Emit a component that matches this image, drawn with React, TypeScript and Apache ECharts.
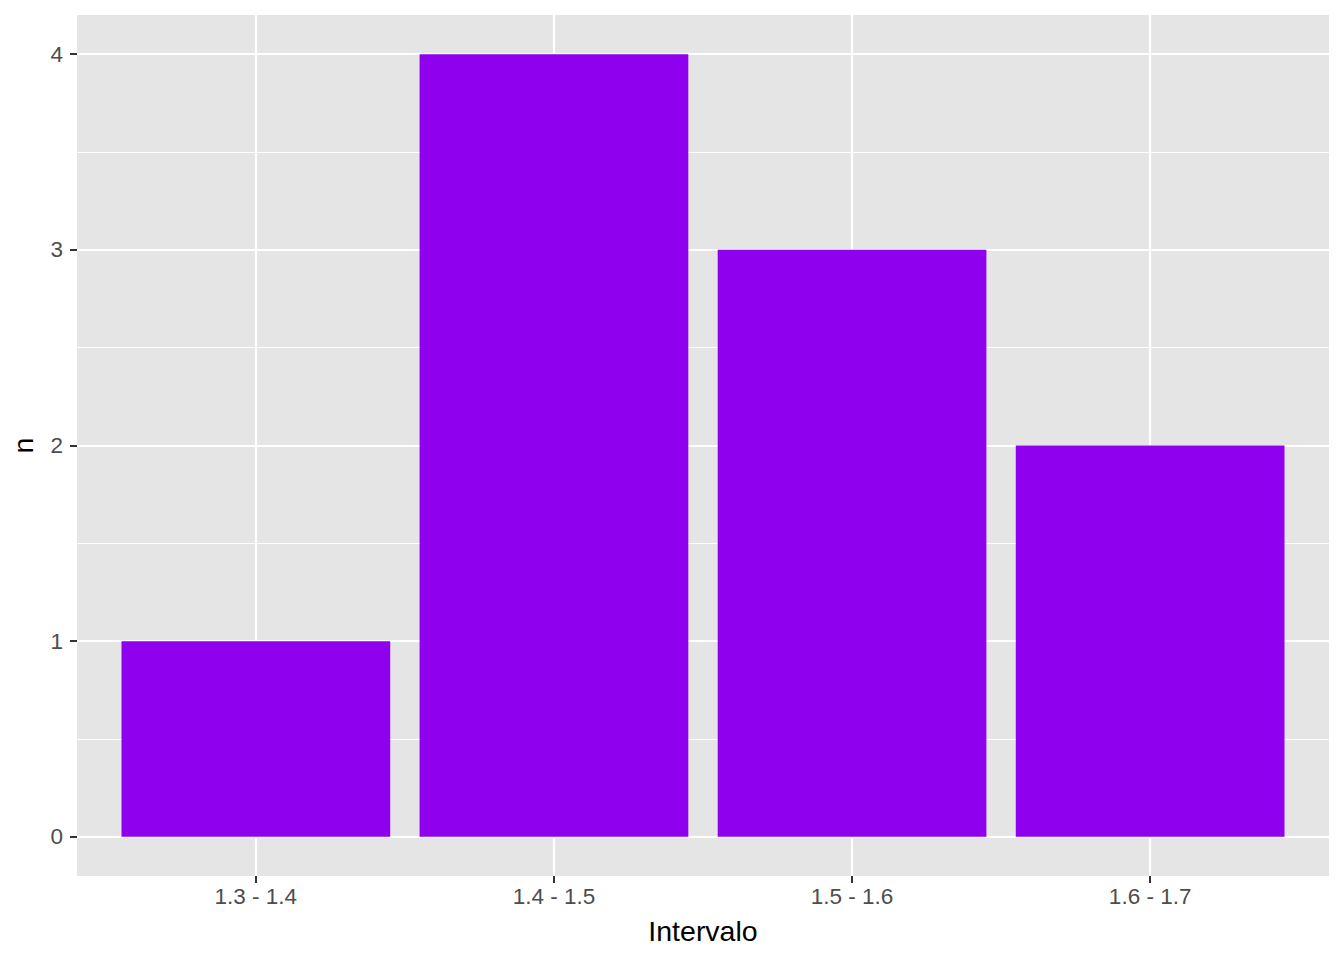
import React, { useEffect, useRef } from "react";
import * as echarts from "echarts";

const categories = ["1.3 - 1.4", "1.4 - 1.5", "1.5 - 1.6", "1.6 - 1.7"];
const counts = [1, 4, 3, 2];
const yTicks = [0, 1, 2, 3, 4];
const yMinor = [0.5, 1.5, 2.5, 3.5];
const xTitle = "Intervalo";
const yTitle = "n";

const W = 1344;
const H = 960;
const GRID = { left: 75, right: 15, top: 15, bottom: 84 };
const FONT = "'Liberation Sans', Arial, Helvetica, sans-serif";
const BAR_COLOR = "#8E00EE";
const PANEL_BG = "#E5E5E5";

export default function App() {
  const ref = useRef<HTMLDivElement>(null);

  useEffect(() => {
    if (!ref.current) return;
    const chart = echarts.init(ref.current, null, { renderer: "svg", width: W, height: H });

    const xMin = 0.4;
    const xMax = categories.length + 0.6;
    const yMin = -0.2;
    const yMax = 4.2;
    const plotW = W - GRID.left - GRID.right;
    const barW = (0.9 * plotW) / (xMax - xMin);
    const xPos = categories.map((_, i) => i + 1);

    chart.setOption({
      animation: false,
      backgroundColor: "#FFFFFF",
      textStyle: { fontFamily: FONT },
      grid: {
        left: GRID.left,
        right: GRID.right,
        top: GRID.top,
        bottom: GRID.bottom,
        show: true,
        backgroundColor: PANEL_BG,
        borderWidth: 0,
        containLabel: false,
      },
      xAxis: {
        type: "value",
        position: "bottom",
        min: xMin,
        max: xMax,
        interval: 1,
        name: xTitle,
        nameLocation: "middle",
        nameGap: 40,
        nameTextStyle: { color: "#000000", fontSize: 28.5, fontFamily: FONT },
        axisLine: { show: false, onZero: false },
        axisTick: {
          show: true,
          length: 7,
          lineStyle: { color: "#333333", width: 2 },
          customValues: xPos,
        },
        axisLabel: {
          show: true,
          color: "#4D4D4D",
          fontSize: 22.5,
          fontFamily: FONT,
          margin: 9,
          customValues: xPos,
          formatter: (v: number) => categories[Math.round(v) - 1] ?? "",
        },
        splitLine: { show: true, lineStyle: { color: "#FFFFFF", width: 2.2 } },
      },
      yAxis: [
        {
          type: "value",
          position: "left",
          min: yMin,
          max: yMax,
          interval: 1,
          name: yTitle,
          nameLocation: "middle",
          nameGap: 40,
          nameRotate: 90,
          nameTextStyle: { color: "#000000", fontSize: 28.5, fontFamily: FONT },
          axisLine: { show: false, onZero: false },
          axisTick: {
            show: true,
            length: 7,
            lineStyle: { color: "#333333", width: 2 },
            customValues: yTicks,
          },
          axisLabel: {
            show: true,
            color: "#4D4D4D",
            fontSize: 22.5,
            fontFamily: FONT,
            margin: 14,
            customValues: yTicks,
            formatter: (v: number) => String(Math.round(v)),
          },
          splitLine: { show: true, lineStyle: { color: "#FFFFFF", width: 2.2 } },
        },
        {
          type: "value",
          position: "left",
          min: yMin,
          max: yMax,
          interval: 0.5,
          axisLine: { show: false, onZero: false },
          axisTick: { show: false, customValues: yMinor },
          axisLabel: { show: false, customValues: yMinor },
          splitLine: { show: true, lineStyle: { color: "#FFFFFF", width: 1.1 } },
        },
      ],
      series: [
        {
          type: "bar",
          xAxisIndex: 0,
          yAxisIndex: 0,
          barWidth: barW,
          itemStyle: { color: BAR_COLOR },
          data: xPos.map((x, i) => [x, counts[i]]),
          z: 3,
        },
      ],
    });

    return () => {
      chart.dispose();
    };
  }, []);

  return (
    <div
      ref={ref}
      style={{ position: "absolute", left: 0, top: 0, width: W, height: H }}
    />
  );
}
